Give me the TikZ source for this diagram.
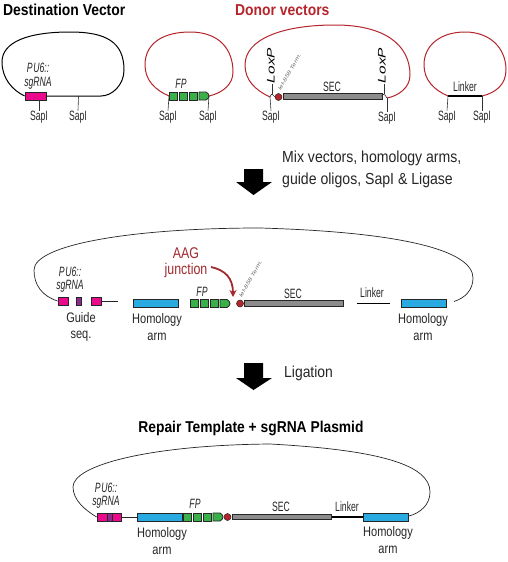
\documentclass[tikz,border=0pt]{standalone}
\usepackage{fontspec}
\usetikzlibrary{arrows.meta}
\setmainfont[FakeStretch=0.8]{Liberation Sans}
\newfontfamily\titlefont[FakeStretch=0.88]{Liberation Sans}
\newfontfamily\narrowfont[FakeStretch=0.64]{Liberation Sans}
\newfontfamily\widefont[FakeStretch=1.4]{Liberation Sans}
\definecolor{dred}{HTML}{B5252B}
\definecolor{jred}{HTML}{A12A2E}
\definecolor{pinkb}{HTML}{EC0A8C}
\definecolor{purpb}{HTML}{8E2A8B}
\definecolor{greenb}{HTML}{39B04A}
\definecolor{blueb}{HTML}{29ABE2}
\definecolor{grayb}{HTML}{8C8C8C}
\tikzset{
 x=1pt,y=-1pt,
 lbl/.style={font=\fontsize{13.8}{16.5}\selectfont,inner sep=0pt,align=center,text=black!85},
 nar/.style={font=\narrowfont\fontsize{13.5}{15}\selectfont,inner sep=0pt,align=center,text=black!85},
 ital/.style={font=\narrowfont\itshape\fontsize{13.5}{13.5}\selectfont,inner sep=0pt,align=center,text=black!85},
 ttl/.style={font=\titlefont\bfseries\fontsize{15.8}{17}\selectfont,inner sep=0pt},
 box/.style={draw=black!85,line width=.8pt,inner sep=0pt},
 pinkbox/.style={box,fill=pinkb},
 purpbox/.style={box,fill=purpb},
 bluebox/.style={box,fill=blueb,minimum height=8pt,minimum width=45pt},
 greenbox/.style={box,fill=greenb,minimum height=8pt,minimum width=8pt},
 secbox/.style={box,fill=grayb,minimum height=5.5pt},
 term/.style={circle,draw=black!85,line width=.5pt,fill=dred,minimum size=7pt,inner sep=0pt},
 tiny/.style={font=\widefont\itshape\fontsize{5}{6}\selectfont,inner sep=0pt,rotate=60,anchor=south west,text=black!60},
 lox/.style={font=\widefont\itshape\fontsize{11}{12}\selectfont,inner sep=0pt,rotate=90,text=black},
 tick/.style={draw=black!80,line width=.6pt},
 dna/.style={draw=black!85,line width=.7pt},
 rloop/.style={draw=dred,line width=1pt},
 bloop/.style={draw=black,line width=1pt},
 linker/.style={draw=black,line width=1.6pt},
 blockarrow/.style={fill=black,draw=none},
}
% green FP cassette: #1 name prefix, #2 x of left edge, #3 y
\newcommand{\fpset}[3]{%
 \node[greenbox,anchor=west] (#1a) at (#2,#3) {};
 \node[greenbox,anchor=west] (#1b) at (#2+10,#3) {};
 \node[greenbox,anchor=west] (#1c) at (#2+20,#3) {};
 \filldraw[fill=greenb,draw=black!85,line width=.8pt] (#2+30,#3-4) -- (#2+37,#3-4) .. controls (#2+39,#3-3.5) and (#2+40,#3-1) .. (#2+40,#3) .. controls (#2+40,#3+1) and (#2+39,#3+3.5) .. (#2+37,#3+4) -- (#2+30,#3+4) -- cycle;
 \coordinate (#1end) at (#2+40,#3);
}
\begin{document}
\begin{tikzpicture}
\useasboundingbox (0,0) rectangle (507,562);
\fill[white] (0,0) rectangle (507,562);

% ---- Titles
\node[ttl,anchor=west] (t1) at (3,10) {Destination Vector};
\node[ttl,anchor=west,text=dred] (t2) at (235,10) {Donor vectors};

% ---- Destination vector
\node[pinkbox,minimum width=21pt,minimum height=8pt] (dp) at (35.5,96) {};
\coordinate (dr) at (101,96);
\draw[bloop] (dp.west) .. controls (12,90) and (2,78) .. (2,62)
  .. controls (2,42) and (28,32) .. (70,32) .. controls (106,32) and (124,42) .. (124,70)
  .. controls (124,85) and (112,96) .. (dr) -- (dp.east);
\node[ital] (d0) at (38,76) {P\kern.8pt U6::\\sgRNA};
\node[nar] (s1) at (39,117) {SapI};
\node[nar] (s2) at (78,117) {SapI};
\draw[tick] (39,100) -- (s1.north);
\draw[tick] (78.5,96) -- (s2.north);

% ---- Donor 1
\fpset{fa}{169}{96}
\draw[rloop] (faa.west) .. controls (155,90) and (145,80) .. (145,65)
  .. controls (145,42) and (165,32) .. (190,32) .. controls (220,32) and (233,50) .. (233,72)
  .. controls (233,85) and (222,93) .. (faend);
\node[ital] (ffp) at (181,84) {FP};
\node[nar] (s3) at (168,117) {SapI};
\node[nar] (s4) at (208,117) {SapI};
\draw[tick] (169,96) -- (s3.north);
\draw[tick] (209,96) -- (s4.north);

% ---- Donor 2
\node[secbox,anchor=west,minimum width=99pt] (sec1) at (283,96.5) {};
\node[term] (t1c) at (278.5,97) {};
\node[tiny] (tt1) at (281,91) {let-858 Term.};
\coordinate (l1) at (270,97);
\coordinate (l2) at (387,98);
\draw[rloop] (l1) .. controls (255,90) and (245,80) .. (245,65)
  .. controls (245,40) and (280,25) .. (335,25) .. controls (385,25) and (410,45) .. (410,75)
  .. controls (410,88) and (398,96) .. (l2);
\draw[tick] (270,97) .. controls (271,94) and (272,94) .. (272.5,94.5) .. controls (273.5,95) and (274,96) .. (275,97);
\draw[tick] (381.5,96) .. controls (383,94) and (384,94) .. (385,95) .. controls (386,96) and (386.5,97) .. (387,98);
\node[lox] (lx1) at (271,65.5) {LoxP};
\node[lox] (lx2) at (382,65.5) {LoxP};
\draw[tick] (272.5,84) -- (272.5,94);
\draw[tick] (384,84) -- (384,94);
\node[nar] (sec1l) at (332,87) {SEC};
\node[nar] (s5) at (271,117) {SapI};
\node[nar] (s6) at (387,118) {SapI};
\draw[tick] (270,97) -- (s5.north);
\draw[tick] (387,98) -- (s6.north);

% ---- Donor 3
\coordinate (k1) at (448,96);
\coordinate (k2) at (482,96);
\draw[rloop] (k1) .. controls (434,90) and (424,80) .. (424,65)
  .. controls (424,44) and (442,32) .. (465,32) .. controls (490,32) and (506,48) .. (506,70)
  .. controls (506,85) and (495,93) .. (k2);
\draw[linker] (k1) -- (k2);
\node[nar] (lk1) at (465,87) {Linker};
\node[nar] (s7) at (447,117) {SapI};
\node[nar] (s8) at (482,117) {SapI};
\draw[tick] (k1) -- (s7.north);
\draw[tick] (k2) -- (s8.north);

% ---- Block arrow 1 and mix text
\fill[blockarrow] (244,169) -- (263,169) -- (263,182) -- (272,182) -- (253.5,195) -- (236,182) -- (244,182) -- cycle;
\node[font=\titlefont\fontsize{16}{22}\selectfont,inner sep=0pt,align=left,anchor=west,text=black!85] (mix) at (282,169) {Mix vectors, homology arms,\\guide oligos, SapI \& Ligase};

% ---- Intermediate
\node[pinkbox,minimum width=10pt,minimum height=8pt] (g1) at (63,301) {};
\node[purpbox,minimum width=5pt,minimum height=8pt] (g2) at (78.5,301) {};
\node[pinkbox,minimum width=10pt,minimum height=8pt] (g3) at (96.5,301) {};
\coordinate (gr) at (118,301);
\draw[dna] (g3.east) -- (gr);
\node[bluebox] (h1) at (155.5,303.5) {};
\node[bluebox] (h2) at (424,303.5) {};
\coordinate (ir) at (454,301.5);
\draw[dna] (g1.west) .. controls (42,296) and (34,285) .. (34,270)
  .. controls (34,245) and (130,228) .. (260,228) .. controls (400,232) and (473,250) .. (473,278)
  .. controls (473,290) and (465,298) .. (ir);
\node[ital] (ig) at (70,279.5) {P\kern.8pt U6::\\sgRNA};
\node[lbl] (gs) at (81,327) {Guide\\seq.};
\node[lbl] (hl1) at (157,327) {Homology\\arm};
\fpset{fb}{190}{303.5}
\node[ital] (ifp) at (202,292) {FP};
\node[term] (t2c) at (240,303.5) {};
\node[secbox,anchor=west,minimum width=98.5pt] (sec2) at (244,303.5) {};
\node[tiny] (tt2) at (242,298) {let-858 Term.};
\node[nar] (sl2) at (293,294) {SEC};
\coordinate (lk2a) at (357,303.5);
\coordinate (lk2b) at (390,303.5);
\draw[linker] (lk2a) -- (lk2b);
\node[nar] (ll2) at (372,293) {Linker};
\node[lbl] (hl2) at (423,327) {Homology\\arm};
\node[font=\fontsize{15.5}{16}\selectfont,inner sep=0pt,align=center,text=jred] (aag) at (186,263) {AAG\\junction};
\draw[jred,line width=1.8pt,-{Stealth[length=7pt,width=7pt]}] (211,267) .. controls (225,270) and (233,278) .. (233,297);

% ---- Block arrow 2
\fill[blockarrow] (244,363) -- (263,363) -- (263,378) -- (272,378) -- (253.5,390) -- (236,378) -- (244,378) -- cycle;
\node[font=\titlefont\fontsize{15.8}{18}\selectfont,inner sep=0pt,anchor=west,text=black!85] (lig) at (284,373) {Ligation};

% ---- Final plasmid
\node[ttl,font=\titlefont\bfseries\fontsize{15.7}{17}\selectfont] (t3) at (251,428) {Repair Template + sgRNA Plasmid};
\node[pinkbox,minimum width=24pt,minimum height=8pt] (r1) at (109,517) {};
\node[purpbox,minimum width=5pt,minimum height=8pt] (r2) at (109.5,517) {};
\node[bluebox] (r3) at (160,517) {};
\draw[dna] (r1.east) -- (r3.west);
\fpset{fc}{183}{517}
\node[term] (t3c) at (227.5,517) {};
\node[secbox,anchor=west,minimum width=99pt] (sec3) at (232,517) {};
\node[bluebox] (r4) at (386,517) {};
\draw[linker] (sec3.east) -- (r4.west);
\coordinate (rr) at (409,516);
\draw[dna] (r1.west) .. controls (85,510) and (73,500) .. (73,487)
  .. controls (73,465) and (150,445) .. (270,444) .. controls (380,450) and (430,465) .. (430,492)
  .. controls (430,505) and (420,513) .. (rr);
\node[ital] (rg) at (106,495.5) {P\kern.8pt U6::\\sgRNA};
\node[ital] (rfp) at (195,504) {FP};
\node[nar] (rsec) at (281,507) {SEC};
\node[nar] (rlk) at (347,507) {Linker};
\node[lbl] (rh1) at (162,541) {Homology\\arm};
\node[lbl] (rh2) at (388,540) {Homology\\arm};
\end{tikzpicture}
\end{document}
